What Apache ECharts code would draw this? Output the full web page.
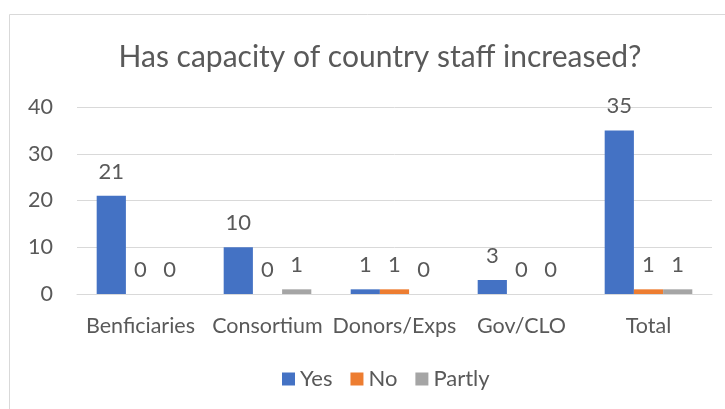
<!DOCTYPE html>
<html>
<head>
<meta charset="utf-8">
<script src="https://cdn.jsdelivr.net/npm/echarts@6/dist/echarts.min.js"></script>
<style>
  html, body { margin: 0; padding: 0; background: #fff; }
  #chart { width: 725px; height: 409px; }
</style>
</head>
<body>
<div id="chart"></div>
<script>
// Survey answers per respondent group
const categories = ['Benficiaries', 'Consortium', 'Donors/Exps', 'Gov/CLO', 'Total'];
const yesValues = [21, 10, 1, 3, 35];
const noValues = [0, 0, 1, 0, 1];
const partlyValues = [0, 1, 0, 0, 1];
const yTicks = [0, 10, 20, 30, 40];

const FONT = 'Lato, "Open Sans", sans-serif';
const TEXT = '#595959';

const chart = echarts.init(document.getElementById('chart'), null, { renderer: 'canvas' });

function barSeries(name, data, color) {
  return {
    name: name,
    type: 'bar',
    data: data,
    barGap: '0%',
    barCategoryGap: '31%',
    itemStyle: { color: color },
    label: {
      show: true,
      position: 'top',
      distance: 13,
      color: TEXT,
      fontFamily: FONT,
      fontSize: 22
    }
  };
}

chart.setOption({
  animation: false,
  title: {
    text: 'Has capacity of country staff increased?',
    left: 375,
    textAlign: 'center',
    top: 37,
    textStyle: { fontFamily: FONT, fontSize: 30, fontWeight: 'normal', color: TEXT }
  },
  graphic: [{
    type: 'rect',
    shape: { x: 9.5, y: 14.5, width: 760, height: 440 },
    style: { fill: 'none', stroke: '#D9D9D9', lineWidth: 1 },
    silent: true
  }],
  legend: {
    top: 363,
    left: 277,
    itemWidth: 13,
    itemHeight: 13,
    itemGap: 18,
    icon: 'rect',
    textStyle: { fontFamily: FONT, fontSize: 22, color: TEXT },
    data: ['Yes', 'No', 'Partly']
  },
  grid: { left: 77, right: 13, top: 107, bottom: 115 },
  xAxis: {
    type: 'category',
    data: categories,
    axisLine: { lineStyle: { color: '#D9D9D9' } },
    axisTick: { show: false },
    axisLabel: { color: TEXT, fontFamily: FONT, fontSize: 21.5, margin: 21, interval: 0 }
  },
  yAxis: {
    type: 'value',
    min: yTicks[0],
    max: yTicks[yTicks.length - 1],
    interval: 10,
    axisLine: { show: false },
    axisTick: { show: false },
    splitLine: { lineStyle: { color: '#D9D9D9' } },
    axisLabel: { color: TEXT, fontFamily: FONT, fontSize: 21.5, margin: 24 }
  },
  series: [
    barSeries('Yes', yesValues, '#4472C4'),
    barSeries('No', noValues, '#ED7D31'),
    barSeries('Partly', partlyValues, '#A5A5A5')
  ]
});
</script>
</body>
</html>
